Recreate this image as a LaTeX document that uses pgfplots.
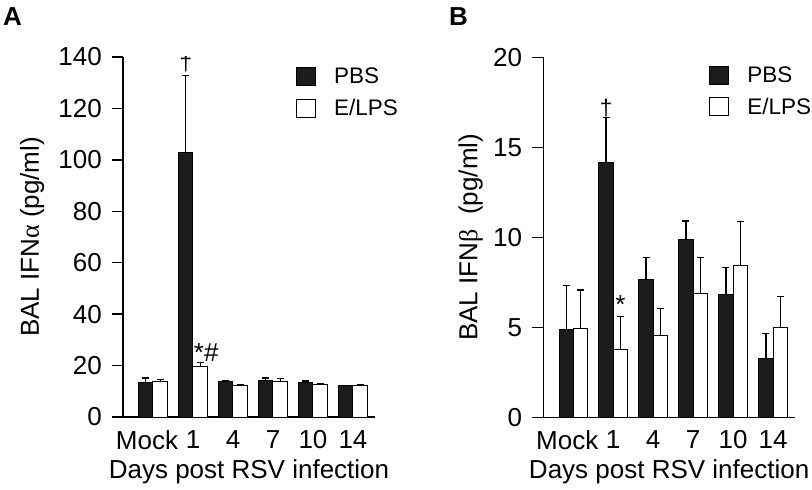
\documentclass[border=0pt]{standalone}
\usepackage{pgfplots}
\pgfplotsset{compat=1.18}
\usepackage{pgfplotstable}
\usepackage{fontspec}
\setmainfont{Liberation Sans}
\newfontfamily\grk{Liberation Serif}
\definecolor{barblack}{HTML}{1C1C1C}

\pgfplotstableread{
x  p     pe    e     ee
0  13.6  1.6   13.9  0.6
1  103.0 29.7  19.5  1.7
2  13.9  0.4   12.1  0.5
3  14.3  0.9   13.9  1.0
4  13.6  0.4   12.6  0.4
5  12.1  0.3   12.3  0.4
}\dataA

\pgfplotstableread{
x  p     pe    e     ee
0  4.85  2.45  4.94  2.13
1  14.15 2.50  3.74  1.85
2  7.67  1.22  4.57  1.49
3  9.85  1.05  6.89  2.00
4  6.80  1.53  8.46  2.41
5  3.28  1.39  5.00  1.70
}\dataB

\newcommand{\axfont}{\fontsize{26bp}{30bp}\selectfont}
\newcommand{\legfont}{\fontsize{22.5bp}{27bp}\selectfont}

\pgfplotsset{
  mystyle/.style={
    scale only axis,
    width=252bp, height=360bp,
    axis x line*=bottom, axis y line*=left,
    axis line style={line width=1.3bp, black},
    tick align=outside,
    major tick length=11bp,
    y tick style={line width=1.3bp, black},
    x tick style={draw=none},
    xtick={0,1,2,3,4,5},
    xticklabels={Mock\hspace*{12bp},1,4,7,10,14},
    xmin=-0.75, xmax=5.55,
    ymin=0,
    ybar, bar width=0.357,
    tick label style={font=\axfont},
    yticklabel style={inner sep=0pt, xshift=-10bp},
    xticklabel style={inner sep=0pt, yshift=-2bp},
    label style={font=\axfont},
    xlabel style={at={(axis description cs:0.5,0)}, anchor=base, yshift=-61bp},
    /pgf/number format/assume math mode=true,
    xlabel={Days post RSV infection},
    legend image code/.code={\draw[#1, line width=1bp] (0bp,-9bp) rectangle (19bp,9bp);},
    legend style={draw=none, fill=none, inner sep=0pt, anchor=north west,
      font=\legfont, row sep=10bp, cells={anchor=west},
      /tikz/every odd column/.append style={column sep=16bp}},
  },
  pbs/.style={fill=barblack, draw=black, line width=1bp, bar shift=-0.1785,
    error bars/.cd, y dir=plus, y explicit,
    error bar style={line width=1.2bp, black},
    error mark options={rotate=90, mark size=3.5bp, line width=1.2bp, black}},
  elps/.style={fill=white, draw=black, line width=1bp, bar shift=0.1785,
    error bars/.cd, y dir=plus, y explicit,
    error bar style={line width=1.2bp, black},
    error mark options={rotate=90, mark size=3.5bp, line width=1.2bp, black}},
}

\begin{document}
\begin{tikzpicture}
\useasboundingbox (0,0) rectangle (812bp,490bp);

\begin{axis}[mystyle, at={(123bp,73bp)}, anchor=south west,
  ymax=140, ytick={0,20,...,140},
  ylabel={BAL IFN{\grk α} (pg/ml)},
  ylabel style={at={(axis description cs:0,0.5)}, anchor=base, yshift=84bp},
  legend style={at={(axis description cs:0.6865,0.975)}}]
\addplot[pbs] table[x=x, y=p, y error=pe] {\dataA};
\addlegendentry{PBS}
\addplot[elps] table[x=x, y=e, y error=ee] {\dataA};
\addlegendentry{E/LPS}
\node[font=\legfont] at (axis cs:0.8215,137.7) {†};
\node[font=\axfont] at (axis cs:1.33,25) {*\#};
\end{axis}

\begin{axis}[mystyle, at={(543.3bp,72.7bp)}, anchor=south west,
  width=251.7bp,
  ymax=20, ytick={0,5,...,20},
  ylabel={BAL IFN{\grk β}\ \ (pg/ml)},
  ylabel style={at={(axis description cs:0,0.5)}, anchor=base, yshift=66bp},
  legend style={at={(axis description cs:0.6586,0.98)}}]
\addplot[pbs] table[x=x, y=p, y error=pe] {\dataB};
\addlegendentry{PBS}
\addplot[elps] table[x=x, y=e, y error=ee] {\dataB};
\addlegendentry{E/LPS}
\node[font=\legfont] at (axis cs:0.8215,17.2) {†};
\node[font=\axfont] at (axis cs:1.1785,6.24) {*};
\end{axis}

\node[anchor=north west, inner sep=0pt, font=\bfseries\fontsize{26bp}{30bp}\selectfont] at (3bp,483bp) {A};
\node[anchor=north west, inner sep=0pt, font=\bfseries\fontsize{26bp}{30bp}\selectfont] at (449bp,483bp) {B};
\end{tikzpicture}
\end{document}
